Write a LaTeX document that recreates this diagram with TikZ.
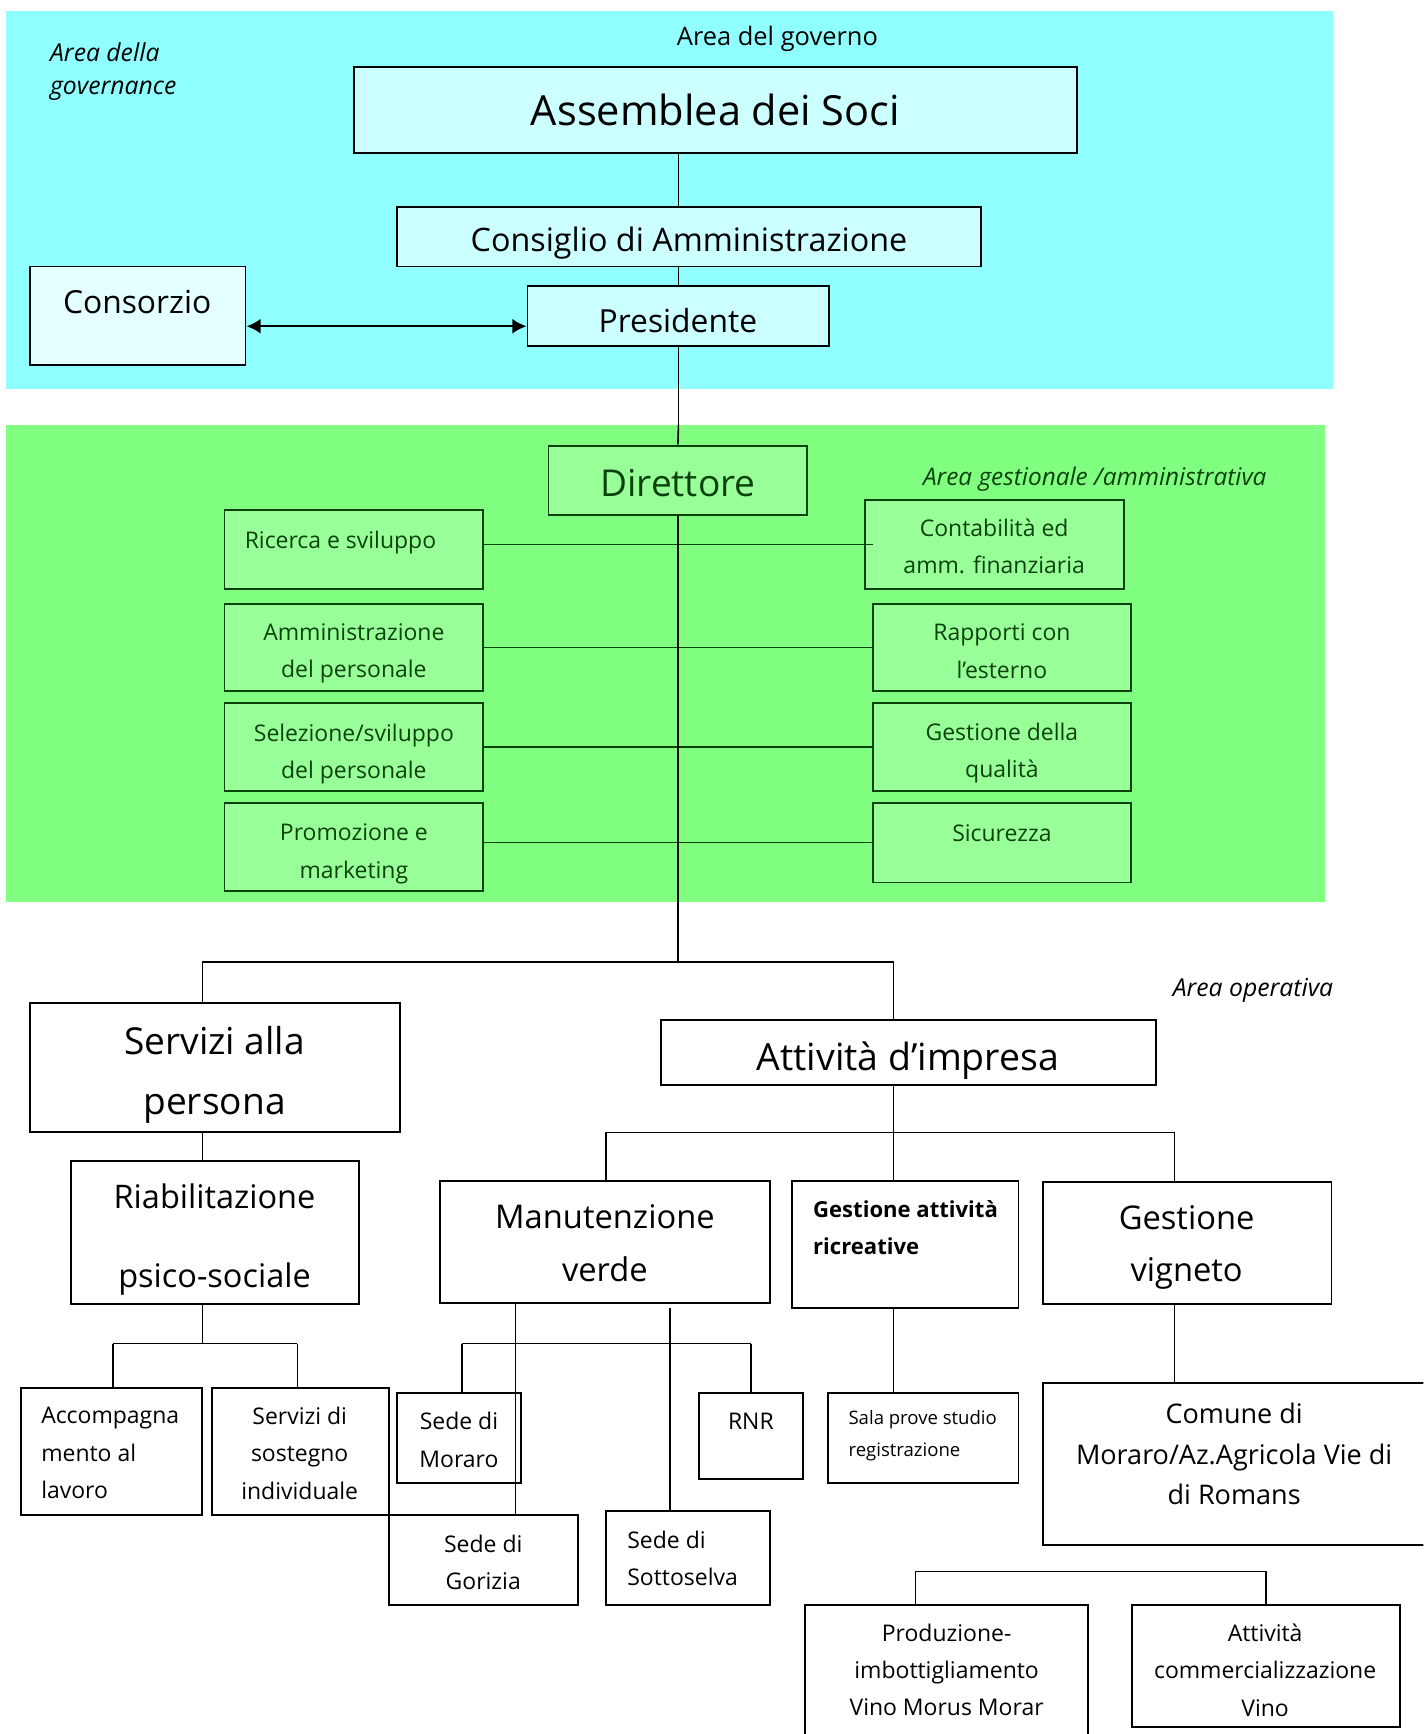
\documentclass[tikz,border=0pt]{standalone}
\usepackage{fontspec}
\setmainfont{Open Sans}
\usetikzlibrary{arrows.meta,fit,calc}
\definecolor{govband}{HTML}{8FFFFF}
\definecolor{govfill}{HTML}{CCFFFF}
\definecolor{consfill}{HTML}{E3FFFF}
\definecolor{gesband}{HTML}{80FF80}
\definecolor{gesfill}{HTML}{99FF99}
\definecolor{gesdark}{HTML}{0B420B}
\newcommand{\fsz}[2]{\fontsize{#1}{#2}\selectfont}
\tikzstyle{govbox} = [draw, fill=govfill, line width=1.1pt, inner sep=0pt]
\tikzstyle{gesbox} = [draw=gesdark, fill=gesfill, line width=1.1pt, inner sep=0pt]
\tikzstyle{opbox} = [draw, fill=white, line width=1.1pt, inner sep=0pt]
\tikzstyle{lbl} = [inner sep=0pt, align=center]
\tikzstyle{geslbl} = [lbl, text=gesdark]
\tikzstyle{link} = [line width=0.9pt]
\tikzstyle{arrow} = [line width=1.4pt, {Latex[length=8pt,width=8.5pt]}-{Latex[length=8pt,width=8.5pt]}]

\begin{document}
\begin{tikzpicture}[x=0.022cm, y=-0.022cm]
  \useasboundingbox (0,0) rectangle (1287,1568);
  \clip (0,0) rectangle (1287,1568);

  % area backgrounds
  \fill[govband] (5,10) rectangle (1205,352);
  \fill[gesband] (5,384) rectangle (1198,816);

  % area del governo
  \node[lbl, font=\fsz{14.4}{17}] (govlbl) at (703,35) {Area del governo};
  \node[lbl, font=\itshape\fsz{14}{18.7}, align=left, anchor=west] (gvnlbl) at (45,65) {Area della\\governance};
  \node[govbox, fit={(320,61) (974,138)}] (ass) {};
  \node[lbl, font=\fsz{23.5}{28}] (asslbl) at (647,99) {Assemblea dei Soci};
  \node[govbox, fit={(359,187) (887,241)}] (cda) {};
  \node[lbl, font=\fsz{18.3}{22}] (cdalbl) at (623,220) {Consiglio di Amministrazione};
  \node[govbox, fill=consfill, fit={(27,241) (222,330)}] (cons) {};
  \node[lbl, font=\fsz{18}{22}] (conslbl) at (124,273) {Consorzio};
  \node[govbox, fit={(477,259) (750,313)}] (pres) {};
  \node[lbl, font=\fsz{18}{22}] (preslbl) at (613,290) {Presidente};

  \draw[link] (ass.south -| pres.north) -- (cda.north -| pres.north);
  \draw[link] (cda.south -| pres.north) -- (pres.north);
  \draw[link] (pres.south) -- (pres.south |- 0,384);
  \coordinate (arr) at (0,295);
  \draw[arrow] (cons.east |- arr) -- (pres.west |- arr);

  % area gestionale
  \node[gesbox, fit={(496,403) (730,466)}] (dir) {};
  \node[geslbl, font=\fsz{21}{25}] (dirlbl) at (613,437) {Direttore};
  \node[geslbl, font=\itshape\fsz{13.8}{17}] (geslbl) at (990,433) {Area gestionale /amministrativa};

  \node[gesbox, fit={(203,461) (437,533)}] (rs) {};
  \node[geslbl, font=\fsz{13}{21}, anchor=west] (rslbl) at (221,491) {Ricerca e sviluppo};
  \node[gesbox, fit={(203,546) (437,625)}] (ap) {};
  \node[geslbl, font=\fsz{13}{21.2}] (aplbl) at (320,591) {Amministrazione\\del personale};
  \node[gesbox, fit={(203,636) (437,715)}] (ss) {};
  \node[geslbl, font=\fsz{13}{21.2}] (sslbl) at (320,682) {Selezione/sviluppo\\del personale};
  \node[gesbox, fit={(203,726) (437,806)}] (pm) {};
  \node[geslbl, font=\fsz{13}{21.2}] (pmlbl) at (320,772) {Promozione e\\marketing};

  \node[gesbox, fit={(782,452) (1016,533)}] (caf) {};
  \node[geslbl, font=\fsz{13}{21.2}] (caflbl) at (899,494) {Contabilità ed\\amm. finanziaria};
  \node[gesbox, fit={(789,546) (1023,625)}] (re) {};
  \node[geslbl, font=\fsz{13}{21.2}] (relbl) at (906,589) {Rapporti con\\l’esterno};
  \node[gesbox, fit={(789,636) (1023,715)}] (gq) {};
  \node[geslbl, font=\fsz{13}{21.2}] (gqlbl) at (906,681) {Gestione della\\qualità};
  \node[gesbox, fit={(789,726) (1023,798)}] (sic) {};
  \node[geslbl, font=\fsz{13}{21}] (siclbl) at (906,753) {Sicurezza};

  \draw[link, gesdark] (rs.east |- caf.west) -- ([xshift=5pt]caf.west);
  \draw[link, gesdark] (ap.east) -- (re.west);
  \draw[link, gesdark] (ss.east) -- (gq.west);
  \draw[link, gesdark] (pm.east |- sic.west) -- (sic.west);
  \draw[link] (pres.south |- 0,384) -- (dir.north);

  % area operativa
  \coordinate (j1) at (613,870);
  \coordinate (j1l) at (183,870);
  \coordinate (j1r) at (808,870);
  \node[lbl, font=\itshape\fsz{14}{17}] (oplbl) at (1133,896) {Area operativa};

  \node[opbox, fit={(27,907) (362,1024)}] (spa) {};
  \node[lbl, font=\fsz{21}{34}] (spalbl) at (194,972) {Servizi alla\\persona};
  \node[opbox, fit={(598,922) (1045,981)}] (ai) {};
  \node[lbl, font=\fsz{21.2}{25}] (ailbl) at (821,959) {Attività d’impresa};
  \node[opbox, fit={(64,1050) (325,1179)}] (rp) {};
  \node[lbl, font=\fsz{18.4}{45}] (rplbl) at (194,1121) {Riabilitazione\\psico-sociale};

  \node[opbox, fit={(398,1068) (696,1178)}] (mv) {};
  \node[lbl, font=\fsz{18.5}{30}] (mvlbl) at (547,1124) {Manutenzione\\verde};
  \node[opbox, fit={(716,1068) (921,1183)}] (gar) {};
  \node[lbl, font=\bfseries\fsz{12.5}{21}, align=left, anchor=west] (garlbl) at (735,1110) {Gestione attività\\ricreative};
  \node[opbox, fit={(943,1069) (1204,1179)}] (gv) {};
  \node[lbl, font=\fsz{18.5}{29.5}] (gvlbl) at (1073,1128) {Gestione\\vigneto};

  \node[opbox, fit={(19,1255) (183,1370)}] (acc) {};
  \node[lbl, font=\fsz{13}{21.2}, align=left, anchor=west] (acclbl) at (37,1314) {Accompagna\\mento al\\lavoro};
  \node[opbox, fit={(192,1255) (352,1370)}] (ssi) {};
  \node[lbl, font=\fsz{13}{21.2}] (ssilbl) at (271,1314) {Servizi di\\sostegno\\individuale};

  \node[opbox, fit={(359,1260) (471,1341)}] (smo) {};
  \node[lbl, font=\fsz{13}{21.2}] (smolbl) at (415,1302) {Sede di\\Moraro};
  \node[opbox, fit={(632,1260) (726,1337)}] (rnr) {};
  \node[lbl, font=\fsz{13}{21}] (rnrlbl) at (679,1285) {RNR};
  \node[opbox, fit={(352,1370) (523,1451)}] (sg) {};
  \node[lbl, font=\fsz{13}{21.2}] (sglbl) at (437,1413) {Sede di\\Gorizia};
  \node[opbox, fit={(548,1366) (696,1451)}] (ssv) {};
  \node[lbl, font=\fsz{13}{21.2}, align=left, anchor=west] (ssvlbl) at (567,1409) {Sede di\\Sottoselva};

  \node[opbox, fit={(749,1260) (921,1341)}] (spr) {};
  \node[lbl, font=\fsz{10.5}{18}, align=left, anchor=west] (sprlbl) at (767,1298) {Sala prove studio\\registrazione};

  \node[opbox, fit={(943,1251) (1300,1397)}] (cmr) {};
  \node[lbl, font=\fsz{15.3}{23}] (cmrlbl) at (1116,1315) {Comune di\\Moraro/Az.Agricola Vie di\\di Romans};

  \node[opbox, fit={(728,1451) (984,1590)}] (pim) {};
  \node[lbl, font=\fsz{13}{21.2}] (pimlbl) at (856,1510) {Produzione-\\imbottigliamento\\Vino Morus Morar};
  \node[opbox, fit={(1024,1451) (1266,1562)}] (acv) {};
  \node[lbl, font=\fsz{13}{21.2}] (acvlbl) at (1144,1510) {Attività\\commercializzazione\\Vino};

  % connectors
  \draw[link] (dir.south) -- (j1);
  \draw[link] (j1l) -- (j1r);
  \draw[link] (j1l) -- (j1l |- spa.north);
  \draw[link] (j1r) -- (j1r |- ai.north);
  \draw[link] (spa.south -| j1l) -- (rp.north -| j1l);

  \coordinate (j2l) at (548,1024);
  \coordinate (j2r) at (1062,1024);
  \draw[link] (ai.south -| j1r) -- (gar.north -| j1r);
  \draw[link] (j2l) -- (j2r);
  \draw[link] (j2l) -- (j2l |- mv.north);
  \draw[link] (j2r) -- (j2r |- gv.north);

  \coordinate (j3) at (183,1215);
  \coordinate (j3l) at (102,1215);
  \coordinate (j3r) at (269,1215);
  \draw[link] (rp.south -| j3) -- (j3);
  \draw[link] (j3l) -- (j3r);
  \draw[link] (j3l) -- (j3l |- acc.north);
  \draw[link] (j3r) -- (j3r |- ssi.north);

  \coordinate (j4l) at (418,1215);
  \coordinate (j4r) at (679,1215);
  \coordinate (mvsg) at (466,1178);
  \coordinate (mvss) at (606,1183);
  \draw[link] (mv.south -| mvsg) -- (sg.north -| mvsg);
  \draw[link] (mvss) -- (mvss |- ssv.north);
  \draw[link] (j4l) -- (j4r);
  \draw[link] (j4l) -- (j4l |- smo.north);
  \draw[link] (j4r) -- (j4r |- rnr.north);

  \draw[link] (gar.south -| j1r) -- (spr.north -| j1r);
  \draw[link] (gv.south -| j2r) -- (cmr.north -| j2r);

  \coordinate (j5l) at (828,1421);
  \coordinate (j5r) at (1145,1421);
  \draw[link] (j5l) -- (j5r);
  \draw[link] (j5l) -- (j5l |- pim.north);
  \draw[link] (j5r) -- (j5r |- acv.north);
\end{tikzpicture}
\end{document}
